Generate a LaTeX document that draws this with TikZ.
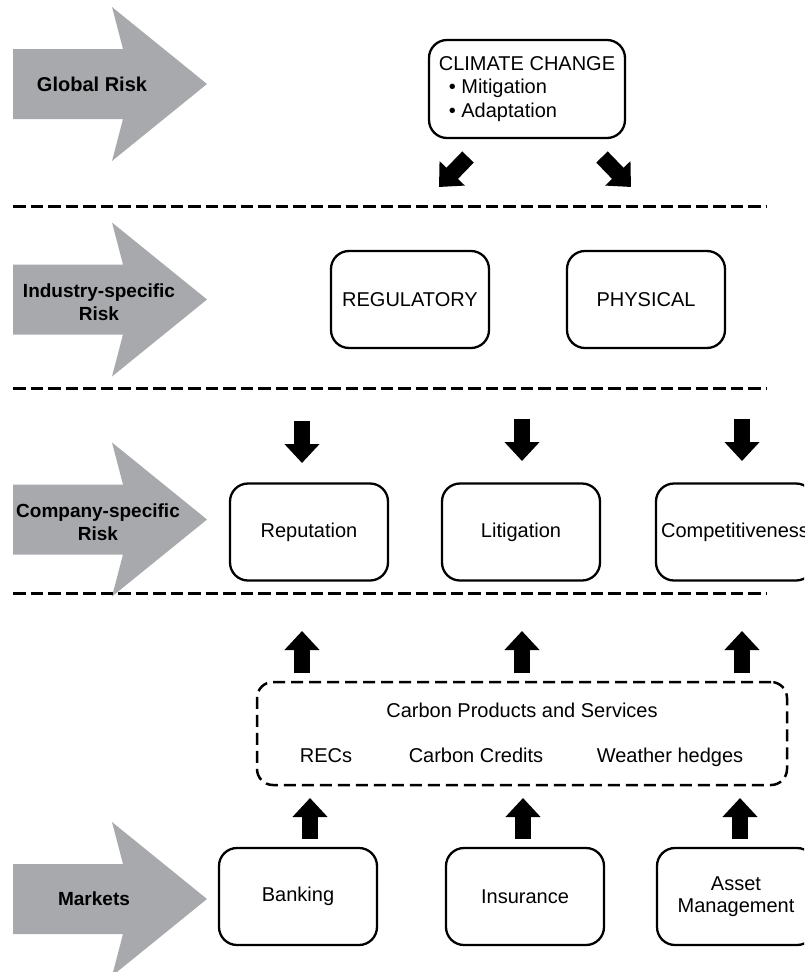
\documentclass[tikz,border=0pt]{standalone}
\usepackage{fontspec}
\setmainfont{Liberation Sans}
\usetikzlibrary{arrows.meta}
\definecolor{arrowgray}{HTML}{A7A9AC}
\begin{document}
\begin{tikzpicture}[x=1pt,y=-1pt,
  box/.style={draw, line width=2.3pt, rounded corners=18pt, minimum width=158pt, minimum height=97pt, inner sep=0pt, align=center, font=\fontsize{20}{22}\selectfont},
  sep/.style={line width=3pt, dash pattern=on 12.5pt off 5pt},
  blockarrow/.style={line width=16pt, -{Triangle[width=34pt,length=19pt]}},
  risklabel/.style={font=\bfseries\fontsize{19}{22.5}\selectfont, align=center, inner sep=0pt},
  txt/.style={font=\fontsize{20}{23}\selectfont, inner sep=0pt, anchor=base},
  riskarrow/.pic={\fill[arrowgray] (13,-35) -- (123,-35) -- (112,-77) -- (207,0) -- (112,77) -- (123,35) -- (13,35) -- cycle;}
]
\useasboundingbox (0,0) rectangle (804,972);
\clip (0,0) rectangle (804,972);

% grey risk arrows
\pic at (0,84) {riskarrow};
\pic at (0,299.5) {riskarrow};
\pic at (0,519.5) {riskarrow};
\pic at (0,899) {riskarrow};
\node[risklabel, font=\bfseries\fontsize{20}{23}\selectfont] (glob) at (92,84) {Global Risk};
\node[risklabel] (ind) at (99,302) {Industry-specific\\Risk};
\node[risklabel] (comp) at (98,522) {Company-specific\\Risk};
\node[risklabel] (mkts) at (94,899) {Markets};

% separators
\coordinate (s1a) at (13,206);  \coordinate (s1b) at (767,206);
\coordinate (s2a) at (13,388);  \coordinate (s2b) at (767,388);
\coordinate (s3a) at (13,593);  \coordinate (s3b) at (767,593);
\draw[sep] (s1a) -- (s1b);
\draw[sep] (s2a) -- (s2b);
\draw[sep] (s3a) -- (s3b);

% boxes
\node[box, minimum width=196pt, minimum height=98pt, align=left, font=\fontsize{20}{23.5}\selectfont] (climate) at (527,89)
  {CLIMATE CHANGE\\\hspace*{10pt}\textbullet\ Mitigation\\\hspace*{10pt}\textbullet\ Adaptation};
\node[box] (reg) at (410,299.5) {REGULATORY};
\node[box] (phys) at (646,299.5) {PHYSICAL};
\node[box] (rep) at (309,532) {Reputation};
\node[box] (lit) at (521,532) {Litigation};
\node[box] (compet) at (735,532) {Competitiveness};
\node[box] (bank) at (298,896.5) {Banking};
\node[box] (ins) at (525,896.5) {Insurance};
\node[box] (asset) at (736,896.5) {Asset\\Management};

% carbon products box
\node[draw, line width=2.5pt, dash pattern=on 12pt off 6pt, rounded corners=16pt, minimum width=530pt, minimum height=103pt] (carbon) at (522,733.5) {};
\node[txt] (cps) at (522,717) {Carbon Products and Services};
\node[txt] (recs) at (326,762) {RECs};
\node[txt] (cc) at (476,762) {Carbon Credits};
\node[txt] (wh) at (670,762) {Weather hedges};

% block arrows
\coordinate (dl1) at (468,157); \coordinate (dl2) at (439,187);
\coordinate (dr1) at (602,157); \coordinate (dr2) at (631,187);
\draw[blockarrow] (dl1) -- (dl2);
\draw[blockarrow] (dr1) -- (dr2);

\coordinate (a1s) at (302,421); \coordinate (a1e) at (302,463);
\coordinate (a2s) at (522,419); \coordinate (a2e) at (522,461);
\coordinate (a3s) at (742,419); \coordinate (a3e) at (742,461);
\draw[blockarrow] (a1s) -- (a1e);
\draw[blockarrow] (a2s) -- (a2e);
\draw[blockarrow] (a3s) -- (a3e);

\coordinate (u1s) at (302,673); \coordinate (u1e) at (302,631);
\coordinate (u2s) at (522,673); \coordinate (u2e) at (522,631);
\coordinate (u3s) at (742,673); \coordinate (u3e) at (742,631);
\draw[blockarrow] (u1s) -- (u1e);
\draw[blockarrow] (u2s) -- (u2e);
\draw[blockarrow] (u3s) -- (u3e);

\coordinate (b1s) at (310,839); \coordinate (b1e) at (310,798);
\coordinate (b2s) at (523,839); \coordinate (b2e) at (523,798);
\coordinate (b3s) at (740,839); \coordinate (b3e) at (740,798);
\draw[blockarrow] (b1s) -- (b1e);
\draw[blockarrow] (b2s) -- (b2e);
\draw[blockarrow] (b3s) -- (b3e);
\end{tikzpicture}
\end{document}
